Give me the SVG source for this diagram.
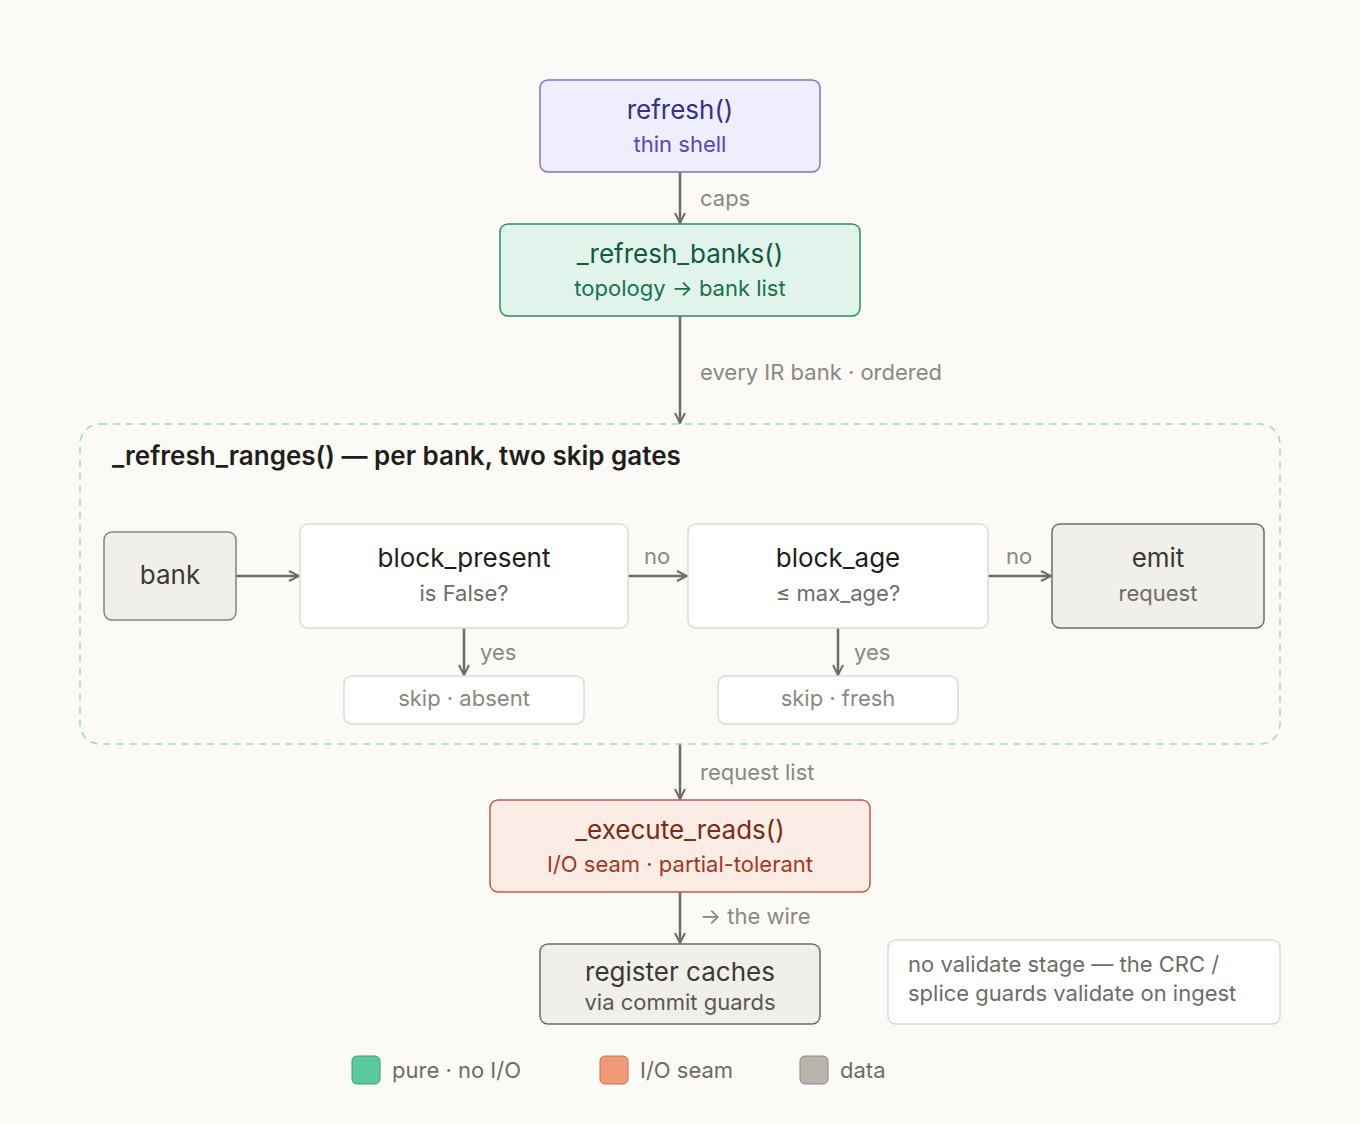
<svg xmlns="http://www.w3.org/2000/svg" width="1360" height="1124" viewBox="0 0 1360 1124">
<defs>
<marker id="ah" viewBox="0 0 12 12" refX="11" refY="6" markerWidth="12" markerHeight="12" markerUnits="userSpaceOnUse" orient="auto"><path d="M1 1 L11 6 L1 11" fill="none" stroke="#6e6c66" stroke-width="2"/></marker>
<style>
text{font-family:"Inter","Liberation Sans",sans-serif;}
.t{font-size:26px;text-anchor:middle}
.s{font-size:22px;text-anchor:middle}
.l{font-size:22px;fill:#8a8880}
.e{stroke:#6e6c66;stroke-width:2.5;fill:none;marker-end:url(#ah)}
.data{fill:#f1efe9;stroke:#85837b;stroke-width:1.5}
.w{fill:#fff;stroke:#dcdad4;stroke-width:1.5}
</style>
</defs>
<rect width="1360" height="1124" fill="#fbfaf7"/>
<g id="connectors">
<line class="e" x1="680" y1="172" x2="680" y2="223"/>
<text class="l" x="700" y="206">caps</text>
<line class="e" x1="680" y1="316" x2="680" y2="423"/>
<text class="l" x="700" y="380">every IR bank · ordered</text>
<line class="e" x1="236" y1="576" x2="299" y2="576"/>
<line class="e" x1="628" y1="576" x2="687" y2="576"/>
<text class="l" x="644" y="564">no</text>
<line class="e" x1="988" y1="576" x2="1051" y2="576"/>
<text class="l" x="1006" y="564">no</text>
<line class="e" x1="464" y1="628" x2="464" y2="675"/>
<text class="l" x="480" y="660">yes</text>
<line class="e" x1="838" y1="628" x2="838" y2="675"/>
<text class="l" x="854" y="660">yes</text>
<line class="e" x1="680" y1="744" x2="680" y2="799"/>
<text class="l" x="700" y="780">request list</text>
<line class="e" x1="680" y1="892" x2="680" y2="943"/>
<text class="l" x="700" y="924">→ the wire</text>
</g>
<g id="refresh">
<rect x="540" y="80" width="280" height="92" rx="8" fill="#eeeefc" stroke="#7d72d8" stroke-width="1.5"/>
<text class="t" x="680" y="119" fill="#3a2f8c">refresh()</text>
<text class="s" x="680" y="152" fill="#5646c0">thin shell</text>
</g>
<g id="refresh_banks">
<rect x="500" y="224" width="360" height="92" rx="8" fill="#e1f4ec" stroke="#2f8a66" stroke-width="1.5"/>
<text class="t" x="680" y="263" fill="#0f5a40">_refresh_banks()</text>
<text class="s" x="680" y="296" fill="#16724f">topology → bank list</text>
</g>
<g id="refresh_ranges">
<rect x="80" y="424" width="1200" height="320" rx="20" fill="none" stroke="#96dcbd" stroke-width="1.5" stroke-dasharray="7 6"/>
<text x="112" y="465" font-size="26" font-weight="600" fill="#1f1e1b">_refresh_ranges() — per bank, two skip gates</text>
</g>
<g id="bank">
<rect class="data" x="104" y="532" width="132" height="88" rx="8"/>
<text class="t" x="170" y="584" fill="#3a3934">bank</text>
</g>
<g id="block_present">
<rect class="w" x="300" y="524" width="328" height="104" rx="8"/>
<text class="t" x="464" y="567" fill="#1f1e1b">block_present</text>
<text class="s" x="464" y="601" fill="#6e6c66">is False?</text>
</g>
<g id="block_age">
<rect class="w" x="688" y="524" width="300" height="104" rx="8"/>
<text class="t" x="838" y="567" fill="#1f1e1b">block_age</text>
<text class="s" x="838" y="601" fill="#6e6c66">≤ max_age?</text>
</g>
<g id="emit">
<rect x="1052" y="524" width="212" height="104" rx="8" fill="#f1efe9" stroke="#6e6c66" stroke-width="1.5"/>
<text class="t" x="1158" y="567" fill="#3a3934">emit</text>
<text class="s" x="1158" y="601" fill="#6e6c66">request</text>
</g>
<g id="skip_absent">
<rect class="w" x="344" y="676" width="240" height="48" rx="8"/>
<text class="s" x="464" y="706" fill="#8a8880">skip · absent</text>
</g>
<g id="skip_fresh">
<rect class="w" x="718" y="676" width="240" height="48" rx="8"/>
<text class="s" x="838" y="706" fill="#8a8880">skip · fresh</text>
</g>
<g id="execute_reads">
<rect x="490" y="800" width="380" height="92" rx="8" fill="#fbece6" stroke="#c45a45" stroke-width="1.5"/>
<text class="t" x="680" y="839" fill="#7a2a15">_execute_reads()</text>
<text class="s" x="680" y="872" fill="#a8361c">I/O seam · partial-tolerant</text>
</g>
<g id="register_caches">
<rect x="540" y="944" width="280" height="80" rx="8" fill="#f1efe9" stroke="#6e6c66" stroke-width="1.5"/>
<text class="t" x="680" y="981" fill="#3a3934">register caches</text>
<text class="s" x="680" y="1010" fill="#5a5954">via commit guards</text>
</g>
<g id="note">
<rect class="w" x="888" y="940" width="392" height="84" rx="8"/>
<text class="l" x="908" y="972" fill="#6e6c66" style="fill:#6e6c66">no validate stage — the CRC /</text>
<text class="l" x="908" y="1001" style="fill:#6e6c66">splice guards validate on ingest</text>
</g>
<g id="legend">
<rect x="352" y="1056" width="28" height="28" rx="5" fill="#5cc9a1" stroke="#3a9c78"/>
<text class="l" x="392" y="1078" style="fill:#6e6c66">pure · no I/O</text>
<rect x="600" y="1056" width="28" height="28" rx="5" fill="#f09a78" stroke="#c8704f"/>
<text class="l" x="640" y="1078" style="fill:#6e6c66">I/O seam</text>
<rect x="800" y="1056" width="28" height="28" rx="5" fill="#b8b6ac" stroke="#8a8880"/>
<text class="l" x="840" y="1078" style="fill:#6e6c66">data</text>
</g>
</svg>
